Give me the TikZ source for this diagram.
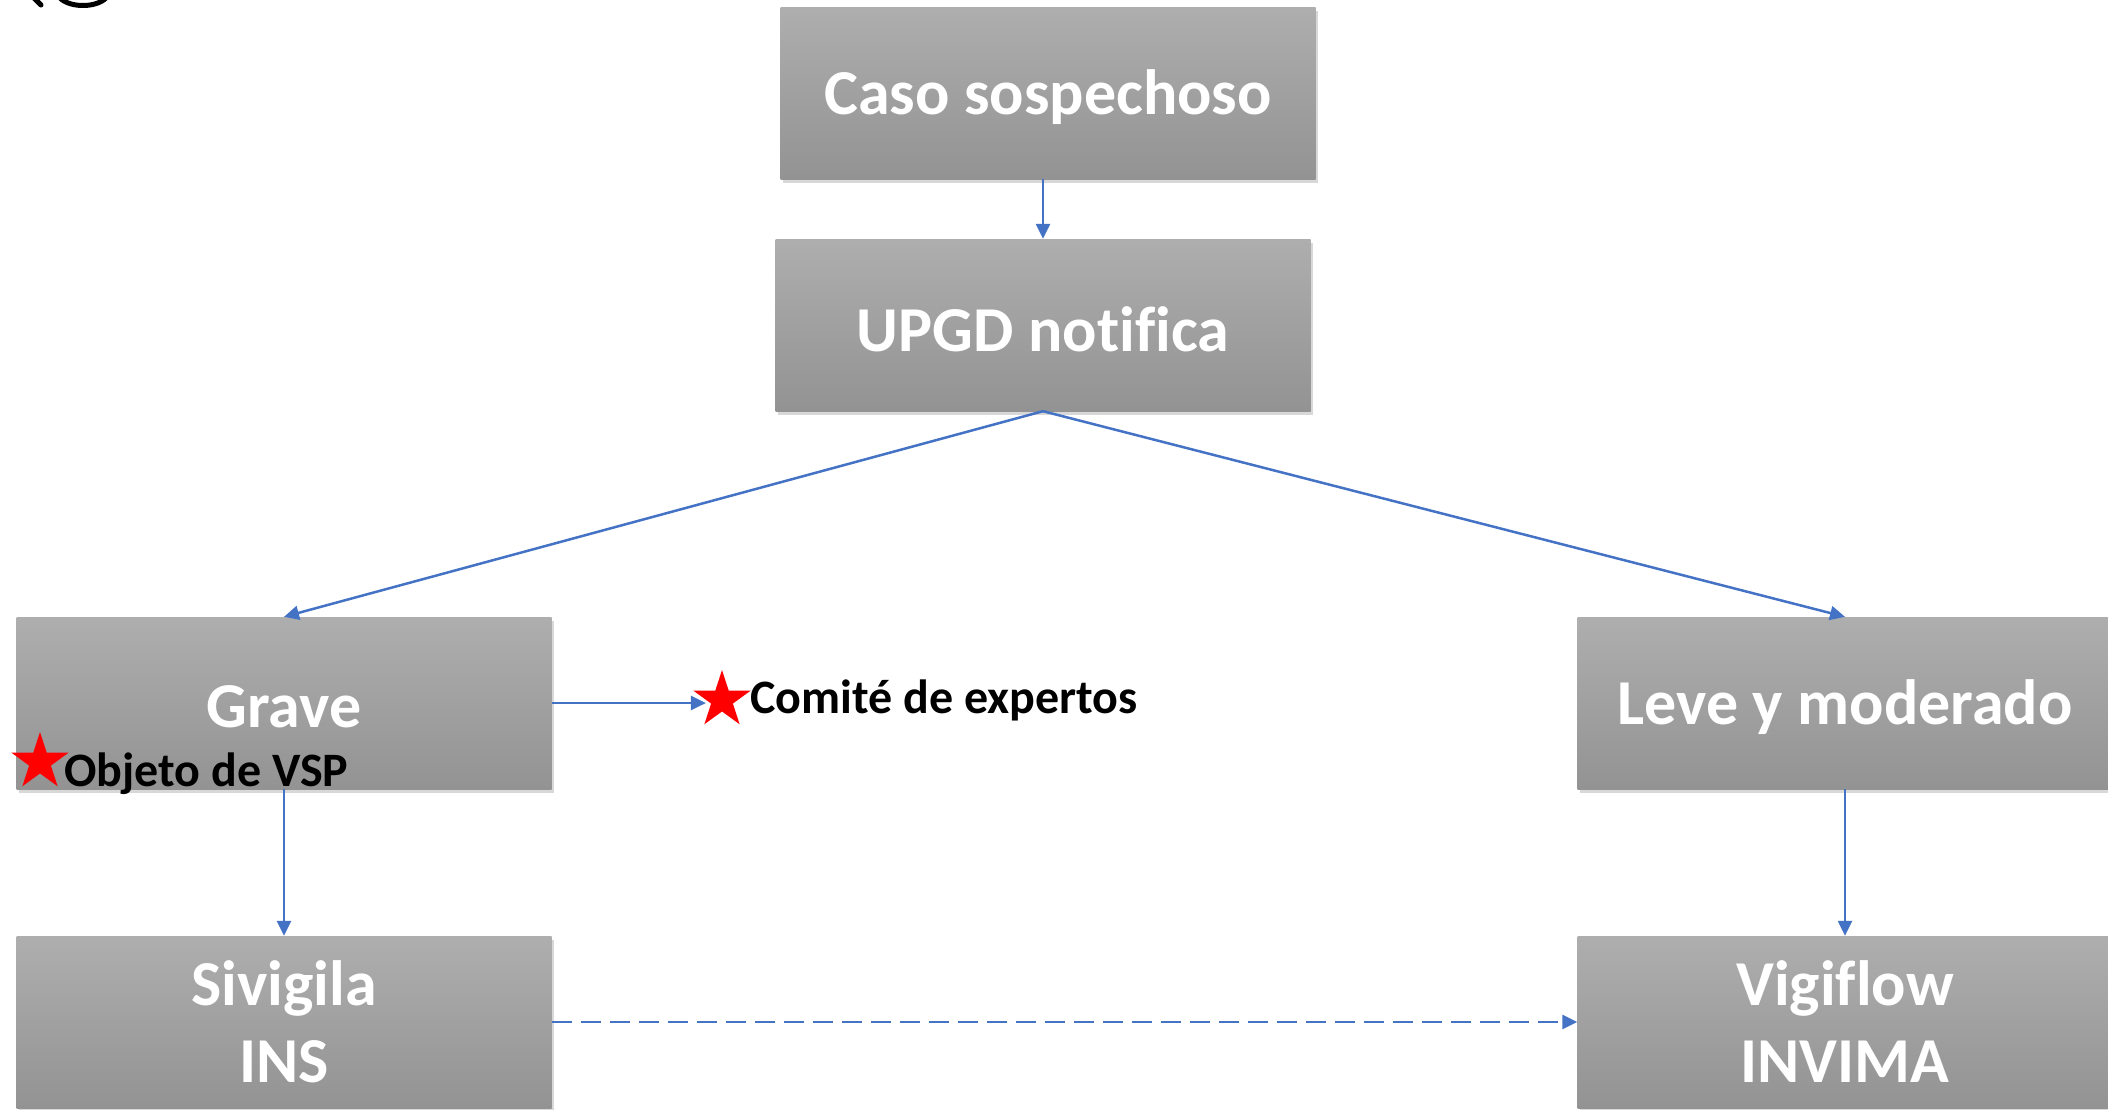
\documentclass[tikz,border=0pt]{standalone}
\usepackage{fontspec}
\setmainfont[Ligatures={NoCommon}]{Carlito}
\usetikzlibrary{arrows.meta,shapes.geometric,shadows}
\definecolor{arrowblue}{HTML}{4472C4}
\definecolor{boxtop}{HTML}{AEAEAE}
\definecolor{boxbot}{HTML}{939393}
\newcommand{\lowertext}[1]{\raisebox{-4pt}[\height][\depth]{#1}}
\begin{document}
\begin{tikzpicture}[x=1pt,y=-1pt,
  box/.style={rectangle, minimum width=535pt, minimum height=172pt, inner sep=0pt,
    top color=boxtop, bottom color=boxbot, draw=none,
    drop shadow={shadow xshift=2pt, shadow yshift=-4pt, opacity=0.3},
    text=white, font=\fontsize{64}{77}\selectfont\bfseries, align=center},
  conn/.style={draw=arrowblue, line width=2.5pt, -{Triangle[length=15pt,width=14pt]}},
  tag/.style={font=\fontsize{48}{58}\selectfont\bfseries, text=black, inner sep=0pt, anchor=base west},
  redstar/.style={star, star points=5, star point ratio=2.618, fill=red, draw=none,
    minimum size=60pt, inner sep=0pt}
]
\clip (0,0) rectangle (2108,1109);
\fill[white] (0,0) rectangle (2108,1109);

% partial logo fragment at top left
\draw[line width=5pt, line cap=round] (34,-2) -- (41,5);
\draw[line width=5pt] (60,-2) .. controls (70,8) and (96,8) .. (106,-2);

\node[box] (caso) at (1048,93) {\lowertext{Caso sospechoso}};
\node[box] (upgd) at (1043,325) {\lowertext{UPGD notifica}};
\node[box] (grave) at (284,703) {\lowertext{Grave}};
\node[box] (leve) at (1845,703) {\lowertext{Leve y moderado}};
\node[box] (sivigila) at (284,1022) {Sivigila\\INS};
\node[box] (vigiflow) at (1845,1022) {Vigiflow\\INVIMA};

\draw[conn] (upgd.north |- caso.south) -- (upgd.north);
\draw[conn] (upgd.south) -- (grave.north);
\draw[conn] (upgd.south) -- (leve.north);
\draw[conn] (grave.south) -- (sivigila.north);
\draw[conn] (leve.south) -- (vigiflow.north);
\draw[conn, dash pattern=on 20pt off 9pt] (sivigila.east) -- (vigiflow.west);

\node[redstar] (starC) at (722,700) {};
\node[tag] (comite) at (750,713) {Comité de expertos};
\draw[conn] (grave.east) -- (grave.east -| starC.west);

\node[redstar] (starO) at (40,762) {};
\node[tag] (objeto) at (64,786) {Objeto de VSP};
\end{tikzpicture}
\end{document}
